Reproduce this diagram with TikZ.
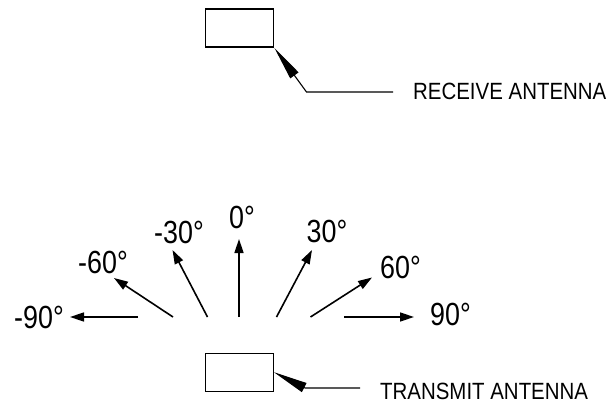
\documentclass[tikz,border=0pt]{standalone}
\usepackage{fontspec}
\setmainfont{Liberation Sans}
\newfontfamily\narrowfont[FakeStretch=0.87]{Liberation Sans}
\newfontfamily\degfont[FakeStretch=0.84]{Liberation Sans}
\usetikzlibrary{arrows.meta}
\begin{document}
\begin{tikzpicture}[x=1pt,y=-1pt,
  antbox/.style={draw,line width=1.4pt,minimum width=68pt,minimum height=38pt,inner sep=0pt,anchor=north west},
  fanarrow/.style={line width=1.6pt,-{Triangle[length=14pt,width=9pt]}},
  leader/.style={line width=1.1pt,-{Triangle[length=34pt,width=10pt]}},
  deglabel/.style={anchor=base west,inner sep=0pt,font=\degfont\fontsize{32}{32}\selectfont},
  antlabel/.style={anchor=base west,inner sep=0pt,font=\narrowfont\fontsize{23.5}{23.5}\selectfont}]
\useasboundingbox (0,0) rectangle (611,404);
% antennas
\node[antbox] (rx) at (205,8.5) {};
\node[antbox] (tx) at (204.5,352.5) {};
% receive leader
\coordinate (rxend) at (393,92);
\coordinate (rxknee) at (306.5,92);
\draw[leader] (rxend) -- (rxknee) -- (rx.south east);
\node[antlabel] (rxlab) at (413,99.5) {RECEIVE ANTENNA};
% transmit leader
\coordinate (txend) at (360,388);
\coordinate (txknee) at (305,388);
\draw[leader] (txend) -- (txknee) -- (tx.east);
\node[antlabel] (txlab) at (380,399.5) {TRANSMIT ANTENNA};
% fan of arrows
\coordinate (s0) at (239,317);   \coordinate (e0) at (239,239);
\coordinate (sm30) at (207.5,317); \coordinate (em30) at (172.5,250);
\coordinate (s30) at (276.5,317);  \coordinate (e30) at (312,250);
\coordinate (sm60) at (173,317);   \coordinate (em60) at (114,278);
\coordinate (s60) at (310.5,317);  \coordinate (e60) at (372,277.5);
\coordinate (sm90) at (138,317);   \coordinate (em90) at (70,317);
\coordinate (s90) at (344,317);    \coordinate (e90) at (414,317);
\foreach \n in {0,m30,30,m60,60,m90,90} {\draw[fanarrow] (s\n) -- (e\n);}
% labels
\node[deglabel] (lm90) at (14,328) {-90°};
\node[deglabel] (lm60) at (78,273) {-60°};
\node[deglabel] (lm30) at (154,243) {-30°};
\node[deglabel] (l0) at (229,228) {0°};
\node[deglabel] (l30) at (306.5,242) {30°};
\node[deglabel] (l60) at (380,278) {60°};
\node[deglabel] (l90) at (430,325) {90°};
\end{tikzpicture}
\end{document}
